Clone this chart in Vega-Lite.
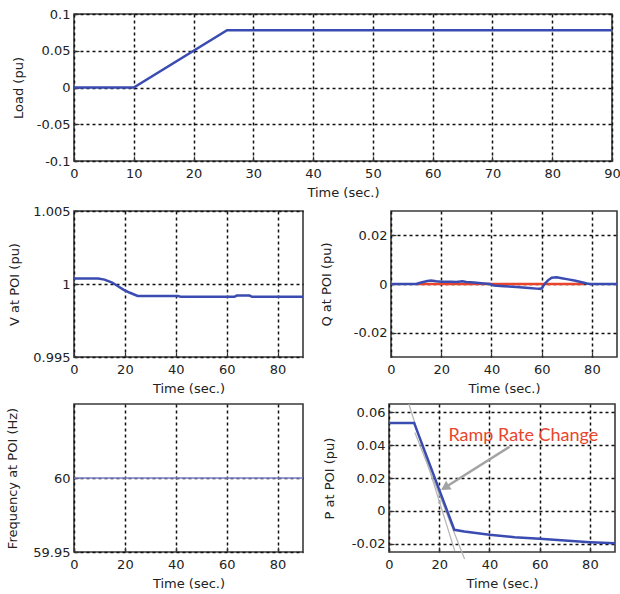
{
  "$schema": "https://vega.github.io/schema/vega-lite/v6.json",
  "background": "white",
  "padding": {"left": 5, "top": 7, "right": 0, "bottom": 0},
  "spacing": 4,
  "datasets": {
    "load": [{"t": 0, "v": 0}, {"t": 10, "v": 0}, {"t": 25.6, "v": 0.078}, {"t": 90, "v": 0.078}],
    "volt": [{"t": 0, "v": 1.00038}, {"t": 9.5, "v": 1.00038}, {"t": 12, "v": 1.0003}, {"t": 15, "v": 1.0001}, {"t": 19.4, "v": 0.99962}, {"t": 22, "v": 0.9994}, {"t": 25, "v": 0.99918}, {"t": 41, "v": 0.99918}, {"t": 42, "v": 0.99912}, {"t": 63, "v": 0.99912}, {"t": 64, "v": 0.99921}, {"t": 69, "v": 0.99921}, {"t": 70, "v": 0.99912}, {"t": 90, "v": 0.99912}],
    "freq": [{"t": 0, "v": 60}, {"t": 90, "v": 60}],
    "qref": [{"t": 10.5, "v": 0}, {"t": 77, "v": 0}],
    "q": [{"t": 0, "v": 0}, {"t": 10, "v": 0}, {"t": 12, "v": 0.0006}, {"t": 14.5, "v": 0.0012}, {"t": 16, "v": 0.0014}, {"t": 18, "v": 0.0011}, {"t": 20, "v": 0.0009}, {"t": 24, "v": 0.0009}, {"t": 26, "v": 0.0008}, {"t": 28.4, "v": 0.0011}, {"t": 30, "v": 0.0008}, {"t": 33, "v": 0.0006}, {"t": 37, "v": 0.0002}, {"t": 39.5, "v": 0}, {"t": 41, "v": -0.0006}, {"t": 45, "v": -0.0009}, {"t": 50, "v": -0.0012}, {"t": 55, "v": -0.0016}, {"t": 58, "v": -0.0019}, {"t": 59.5, "v": -0.002}, {"t": 60.3, "v": -0.0015}, {"t": 61, "v": -0.0002}, {"t": 62.5, "v": 0.0015}, {"t": 64, "v": 0.0026}, {"t": 66, "v": 0.0028}, {"t": 68, "v": 0.0024}, {"t": 70, "v": 0.002}, {"t": 73, "v": 0.0014}, {"t": 76, "v": 0.0007}, {"t": 78, "v": 0.0002}, {"t": 79.5, "v": 0}, {"t": 90, "v": 0}],
    "p": [{"t": 0, "v": 0.0535}, {"t": 10, "v": 0.0535}, {"t": 26, "v": -0.0115}, {"t": 30, "v": -0.0125}, {"t": 40, "v": -0.0145}, {"t": 50, "v": -0.016}, {"t": 60, "v": -0.017}, {"t": 70, "v": -0.018}, {"t": 80, "v": -0.019}, {"t": 90, "v": -0.0197}],
    "tan": [{"t": 7.92, "v": 0.065, "g": "a"}, {"t": 26.2, "v": -0.0243, "g": "a"}, {"t": 10.3, "v": 0.0477, "g": "b"}, {"t": 30.1, "v": -0.0292, "g": "b"}],
    "arrow": [{"t": 48, "v": 0.039}, {"t": 22.3, "v": 0.0142}],
    "head": [{"t": 22.3, "v": 0.0142}],
    "note": [{"t": 53.5, "v": 0.0455, "label": "Ramp Rate Change"}]
  },
  "vconcat": [
    {
      "width": 538,
      "height": 147,
      "data": {"name": "load"},
      "mark": {"type": "line", "color": "#3a4cb1", "strokeWidth": 2.5},
      "encoding": {
        "x": {"field": "t", "type": "quantitative", "scale": {"domain": [0, 90], "nice": false}, "axis": {"values": [0, 10, 20, 30, 40, 50, 60, 70, 80, 90], "title": "Time (sec.)"}},
        "y": {"field": "v", "type": "quantitative", "scale": {"domain": [-0.1, 0.1], "nice": false, "zero": false}, "axis": {"values": [-0.1, -0.05, 0, 0.05, 0.1], "title": "Load (pu)", "titlePadding": 10.7, "labelExpr": "datum.value < 0 ? '-' + format(-datum.value, '~g') : format(datum.value, '~g')"}}
      }
    },
    {
      "spacing": 10,
      "hconcat": [
        {
          "width": 229,
          "height": 146,
          "data": {"name": "volt"},
          "mark": {"type": "line", "color": "#3a4cb1", "strokeWidth": 2.5},
          "encoding": {
            "x": {"field": "t", "type": "quantitative", "scale": {"domain": [0, 90], "nice": false}, "axis": {"values": [0, 20, 40, 60, 80], "title": "Time (sec.)"}},
            "y": {"field": "v", "type": "quantitative", "scale": {"domain": [0.995, 1.005], "nice": false, "zero": false}, "axis": {"values": [0.995, 1, 1.005], "title": "V at POI (pu)", "titlePadding": 14.7, "labelExpr": "format(datum.value, '~g')"}}
          }
        },
        {
          "width": 226,
          "height": 146,
          "encoding": {
            "x": {"field": "t", "type": "quantitative", "scale": {"domain": [0, 90], "nice": false}, "axis": {"values": [0, 20, 40, 60, 80], "title": "Time (sec.)"}},
            "y": {"field": "v", "type": "quantitative", "scale": {"domain": [-0.03, 0.03], "nice": false, "zero": false}, "axis": {"values": [-0.02, 0, 0.02], "title": "Q at POI (pu)", "titlePadding": 19.7, "labelExpr": "datum.value < 0 ? '-' + format(-datum.value, '~g') : format(datum.value, '~g')"}}
          },
          "layer": [
            {"data": {"name": "qref"}, "mark": {"type": "line", "color": "#e8452c", "strokeWidth": 2.5}},
            {"data": {"name": "q"}, "mark": {"type": "line", "color": "#3a4cb1", "strokeWidth": 2.5}}
          ]
        }
      ]
    },
    {
      "spacing": 15,
      "hconcat": [
        {
          "width": 229,
          "height": 148,
          "data": {"name": "freq"},
          "mark": {"type": "line", "color": "#7a7fc6", "strokeWidth": 1.6},
          "encoding": {
            "x": {"field": "t", "type": "quantitative", "scale": {"domain": [0, 90], "nice": false}, "axis": {"values": [0, 20, 40, 60, 80], "title": "Time (sec.)"}},
            "y": {"field": "v", "type": "quantitative", "scale": {"domain": [59.95, 60.05], "nice": false, "zero": false}, "axis": {"values": [59.95, 60], "title": "Frequency at POI (Hz)", "titlePadding": 16.7, "labelExpr": "format(datum.value, '~g')"}}
          }
        },
        {
          "width": 226,
          "height": 148,
          "encoding": {
            "x": {"field": "t", "type": "quantitative", "scale": {"domain": [0, 90], "nice": false}, "axis": {"values": [0, 20, 40, 60, 80], "title": "Time (sec.)"}},
            "y": {"field": "v", "type": "quantitative", "scale": {"domain": [-0.025, 0.065], "nice": false, "zero": false}, "axis": {"values": [-0.02, 0, 0.02, 0.04, 0.06], "title": "P at POI (pu)", "titlePadding": 14.7, "labelExpr": "datum.value < 0 ? '-' + format(-datum.value, '~g') : format(datum.value, '~g')"}}
          },
          "layer": [
            {"data": {"name": "tan"}, "mark": {"type": "line", "color": "#b4b4b4", "strokeWidth": 1.2, "clip": false}, "encoding": {"detail": {"field": "g"}}},
            {"data": {"name": "p"}, "mark": {"type": "line", "color": "#3a4cb1", "strokeWidth": 2.5}},
            {"data": {"name": "arrow"}, "mark": {"type": "line", "color": "#a3a3a3", "strokeWidth": 2.5}},
            {"data": {"name": "head"}, "mark": {"type": "point", "shape": "triangle-up", "filled": true, "size": 110, "angle": 238, "color": "#a3a3a3", "opacity": 1}},
            {"data": {"name": "note"}, "mark": {"type": "text", "color": "#e8452c", "font": "Lato", "fontSize": 18, "align": "center", "baseline": "middle"}, "encoding": {"text": {"field": "label"}}}
          ]
        }
      ]
    }
  ],
  "config": {
    "view": {"stroke": "#3a3a3a", "strokeWidth": 1.6},
    "axis": {"domain": false, "grid": true, "gridColor": "#111111", "gridDash": [3, 3], "gridWidth": 1.5, "gridOpacity": 1, "ticks": true, "tickSize": -5, "tickColor": "#333333", "tickWidth": 1.2, "labelFlush": false, "labelOverlap": false, "labelFont": "DejaVu Sans", "labelFontSize": 13, "labelColor": "#222222", "titleFont": "DejaVu Sans", "titleFontSize": 13, "titleFontWeight": "normal", "titleColor": "#222222"},
    "axisX": {"labelPadding": 11, "titlePadding": 6},
    "axisY": {"labelPadding": 9, "minExtent": 38, "maxExtent": 38}
  }
}
